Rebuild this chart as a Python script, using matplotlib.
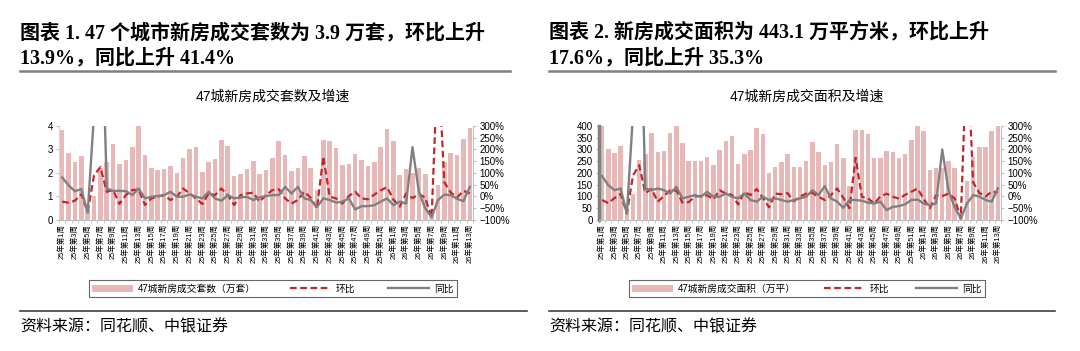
import matplotlib.pyplot as plt
from matplotlib.lines import Line2D
from matplotlib.patches import Patch
import numpy as np

plt.rcParams['font.family'] = ['Liberation Sans', 'Noto Sans CJK SC']
plt.rcParams['axes.unicode_minus'] = True

W, H = 1080, 351

weeks = [f"25年第{i}周" for i in range(1, 53)] + [f"26年第{i}周" for i in range(1, 14)]

# 47城新房成交套数（万套）
units = [3.82, 2.83, 2.46, 2.71, 0.45, 1.0, 2.2, 2.46, 3.25, 2.37,
         2.55, 3.1, 4.05, 2.76, 2.23, 2.12, 2.19, 2.29, 1.98, 2.64,
         3.0, 3.11, 2.05, 2.47, 2.6, 3.42, 3.14, 1.87, 1.97, 2.19,
         2.5, 1.95, 2.12, 2.64, 3.35, 2.78, 2.09, 2.22, 2.71, 2.23,
         1.26, 3.41, 3.38, 3.08, 2.32, 2.37, 2.80, 2.56, 2.28, 2.47,
         3.11, 3.86, 3.35, 1.91, 2.16, 2.01, 2.23, 1.94, 0.25, 1.48,
         2.45, 2.86, 2.76, 3.43, 3.9]
units_mom = [-22, -26, -18, 10, -65, 90, 125, 20, 27, -32,
             6, 27, 30, -36, -8, -1, 6, -15, -1, 34,
             13, -8, -32, 13, 6, 34, 6, -36, 6, 13,
             16, -22, 6, 27, 31, -8, -30, -15, 20, -5,
             -50, 170, -1, -8, -30, 2, 20, -8, -12, 8,
             26, 40, -13, -43, 13, -7, 11, -5, -90, 600,
             60, 17, -4, 24, 13.9]
units_yoy = [81, 48, 22, 32, -69, 350, 1000, 34, 24, 24,
             23, 6, 34, -8, -1, 2, 6, 20, -1, -1,
             9, -1, -8, 20, -8, -18, 6, -8, -4, -1,
             -15, -4, 2, 6, 6, 41, 13, 41, -8, -15,
             -45, -8, -15, -26, -22, -8, -55, -41, -41, -37,
             -22, -8, -37, -22, -30, 210, 20, -50, -88, -15,
             8, 6, -10, -20, 41.4]

# 47城新房成交面积（万平）
area = [420, 304, 284, 315, 45, 110, 254, 281, 370, 288,
        294, 370, 430, 329, 249, 249, 253, 267, 234, 298,
        335, 357, 237, 281, 298, 393, 367, 200, 224, 246,
        281, 225, 225, 250, 330, 290, 236, 246, 322, 264,
        146, 384, 381, 367, 263, 263, 294, 290, 263, 281,
        339, 430, 379, 212, 222, 223, 250, 220, 30, 167,
        270, 311, 311, 377, 443.1]
area_mom = [-15, -28, -7, 11, -72, 90, 133, 15, 32, -22,
            2, 26, 25, -26, -24, 0, 2, 5, -12, 27,
            12, 7, -34, 19, 6, 32, -7, -46, 12, 10,
            14, -20, 0, 12, 15, -1, -15, 6, 34, -5,
            -50, 165, -1, -8, -30, 0, 12, -1, -9, 7,
            20, 34, -10, -50, 5, 2, 12, -8, -93, 650,
            60, 15, 0, 21, 17.6]
area_yoy = [87, 48, 27, 34, -72, 350, 1000, 34, 27, 34,
            27, 13, 41, -8, -1, 6, -1, 20, -1, -1,
            13, -1, -8, 13, -15, -22, -1, -15, -8, -15,
            -22, -15, -8, -1, 27, 6, 44, -8, -22, -48,
            -15, -15, -18, -26, -30, -22, -58, -44, -41, -33,
            -15, -13, -30, -37, -30, 200, 27, -45, -93, -30,
            6, 0, -15, -22, 35.3]

bar_color = '#E6B9B8'
red = '#C0272D'
grey = '#808080'


def pct(v):
    return f"{v}%" if v >= 0 else f"\u2212{abs(v)}%"


def panel(px0, px1, bars, mom, yoy, ymax, ystep, chart_title, bar_label, left_spine):
    ax = fig.add_axes([px0 / W, 1 - 220 / H, (px1 - px0) / W, 94 / H])
    x = np.arange(len(bars))
    ax.bar(x, bars, width=0.72, color=bar_color, zorder=2)
    ax.set_xlim(-0.5, len(bars) - 0.5)
    ax.set_ylim(0, ymax)
    ax.set_yticks(np.arange(0, ymax + 1e-9, ystep))
    ax.set_xticks(x[::2])
    ax.set_xticklabels(weeks[::2], rotation=90, fontsize=5.4)
    ax.set_xticks(np.arange(-0.5, len(bars), 1), minor=True)
    ax.tick_params(axis='x', which='major', length=0, pad=3)
    ax.tick_params(axis='x', which='minor', length=2.5, color='#BFBFBF')
    ax.tick_params(axis='y', labelsize=7, length=2.5, color='#BFBFBF', pad=2)
    ax.spines['top'].set_visible(False)
    ax.spines['right'].set_visible(False)
    ax.spines['bottom'].set_color('#BFBFBF')
    ax.spines['left'].set_color(left_spine[0])
    ax.spines['left'].set_linewidth(left_spine[1])

    ax2 = ax.twinx()
    ax2.plot(x, mom, color=red, lw=1.6, ls=(0, (3, 1.6)))
    ax2.plot(x, yoy, color=grey, lw=1.7)
    ax2.set_ylim(-100, 300)
    ticks = list(range(-100, 301, 50))
    ax2.set_yticks(ticks)
    ax2.set_yticklabels([pct(t) for t in ticks])
    ax2.tick_params(axis='y', labelsize=7, length=2.5, color='#BFBFBF', pad=2)
    for s in ['top', 'left', 'bottom']:
        ax2.spines[s].set_visible(False)
    ax2.spines['right'].set_color('#BFBFBF')

    fig.text((px0 + px1) / 2 / W + 0.006, 1 - 97 / H, chart_title, ha='center', va='center',
             fontsize=10)

    handles = [Patch(facecolor=bar_color),
               Line2D([], [], color=red, lw=1.6, ls=(0, (3, 1.6))),
               Line2D([], [], color=grey, lw=1.7)]
    lx0 = px0 + 30
    lx1 = px1 - 16
    leg = fig.legend(handles, [bar_label, '环比', '同比'], loc='center',
                     bbox_to_anchor=(lx0 / W, 1 - 298 / H, (lx1 - lx0) / W, 19 / H),
                     mode='expand', ncol=3, fontsize=7, handlelength=4.2,
                     frameon=True, fancybox=False, borderaxespad=0, borderpad=0.35,
                     handletextpad=0.5)
    leg.get_frame().set_edgecolor('#404040')
    leg.get_frame().set_linewidth(0.8)


fig = plt.figure(figsize=(W / 100, H / 100), dpi=100)

title_font = ['Liberation Serif', 'Noto Sans CJK SC']

# left panel
fig.text(20 / W, 1 - 33 / H, '图表 1. 47 个城市新房成交套数为 3.9 万套，环比上升',
         fontsize=14.4, fontweight='bold', va='center', family=title_font)
fig.text(20 / W, 1 - 58 / H, '13.9%，同比上升 41.4%',
         fontsize=14.4, fontweight='bold', va='center', family=title_font)
fig.add_artist(Line2D([20 / W, 510 / W], [1 - 71 / H] * 2, color='#7F7F7F', lw=1.8))
panel(59, 473, units, units_mom, units_yoy, 4, 1, '47城新房成交套数及增速',
      '47城新房成交套数（万套）', ('#D9D9D9', 0.8))
fig.add_artist(Line2D([20 / W, 527 / W], [1 - 311 / H] * 2, color='#404040', lw=1.2))
fig.text(20 / W, 1 - 327 / H, '资料来源：同花顺、中银证券', fontsize=11.5,
         style='italic', va='center')

# right panel
fig.text(549 / W, 1 - 33 / H, '图表 2. 新房成交面积为 443.1 万平方米，环比上升',
         fontsize=14.4, fontweight='bold', va='center', family=title_font)
fig.text(549 / W, 1 - 58 / H, '17.6%，同比上升 35.3%',
         fontsize=14.4, fontweight='bold', va='center', family=title_font)
fig.add_artist(Line2D([549 / W, 1055 / W], [1 - 71 / H] * 2, color='#7F7F7F', lw=1.8))
panel(599, 1001, area, area_mom, area_yoy, 400, 50, '47城新房成交面积及增速',
      '47城新房成交面积（万平）', (grey, 2.5))
fig.add_artist(Line2D([549 / W, 1055 / W], [1 - 311 / H] * 2, color='#404040', lw=1.2))
fig.text(549 / W, 1 - 327 / H, '资料来源：同花顺、中银证券', fontsize=11.5,
         style='italic', va='center')

fig.savefig('out.png', dpi=100)
